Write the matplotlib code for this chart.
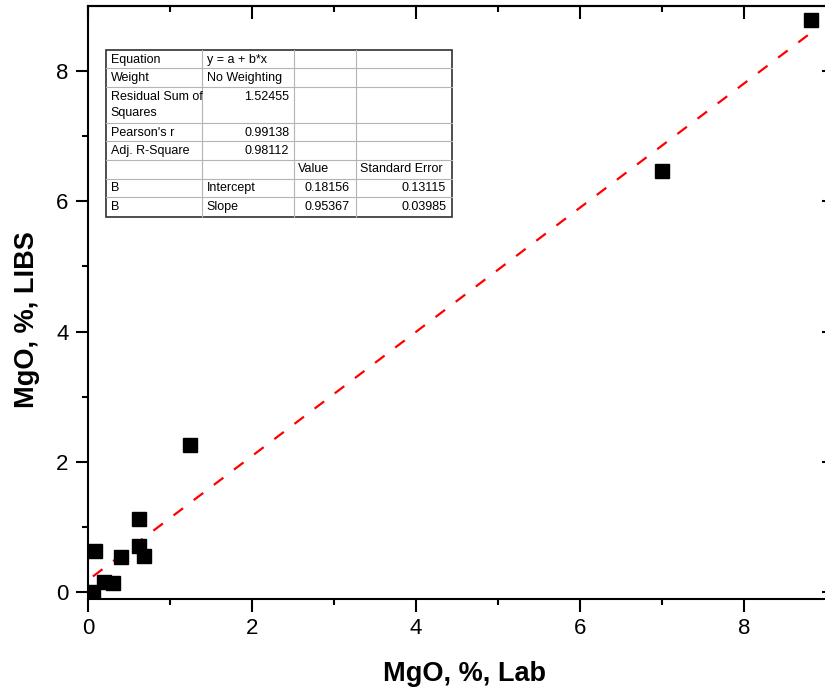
import matplotlib
matplotlib.use("Agg")
import matplotlib.pyplot as plt
import numpy as np

plt.rcParams['font.family'] = ['Liberation Sans', 'DejaVu Sans']
plt.rcParams['lines.scale_dashes'] = False

# MgO content, lab reference vs LIBS prediction
mgo_lab = [8.82, 7.00, 1.24, 0.62, 0.62, 0.68, 0.40, 0.09, 0.20, 0.30, 0.06]
mgo_libs = [8.79, 6.47, 2.26, 1.12, 0.71, 0.56, 0.53, 0.63, 0.16, 0.14, 0.00]

# linear fit results
intercept = 0.18156
slope = 0.95367
intercept_se = 0.13115
slope_se = 0.03985
rss = 1.52455
pearson_r = 0.99138
adj_r2 = 0.98112

W, H = 825, 694
fig = plt.figure(figsize=(W / 100, H / 100), dpi=100)

# axes placed in pixels: x 0..9.1 over 88..834, y -0.1..9 over 598.5..6
x0, x1 = 88, 834.2
y_top, y_bot = 6.1, 598.5
ax = fig.add_axes([x0 / W, 1 - y_bot / H, (x1 - x0) / W, (y_bot - y_top) / H])
ax.set_xlim(0, 9.1)
ax.set_ylim(-0.1, 9)

xf = np.array([min(mgo_lab), max(mgo_lab)])
fit_line, = ax.plot(xf, intercept + slope * xf, color='red', lw=1.6)
fit_line.set_dashes((8.6, 9.6))
ax.plot(mgo_lab, mgo_libs, 's', color='black', ms=9.4, mec='black')

ticks = [0, 2, 4, 6, 8]
minor = [1, 3, 5, 7]
ax.set_xticks(ticks)
ax.set_yticks(ticks)
ax.set_xticks(minor, minor=True)
ax.set_yticks(minor, minor=True)
ax.tick_params(which='both', width=1.5, labelsize=16, direction='out')
ax.tick_params(which='major', length=9)
ax.tick_params(which='minor', length=4.5)
ax.tick_params(axis='x', pad=5)
ax.tick_params(axis='y', pad=5)

# inward ticks on top and right, unlabeled
axt = ax.secondary_xaxis('top')
axt.set_xticks(ticks)
axt.set_xticks(minor, minor=True)
axr = ax.secondary_yaxis('right')
axr.set_yticks(ticks)
axr.set_yticks(minor, minor=True)
for a in (axt, axr):
    a.tick_params(which='both', direction='in', width=1.5, labeltop=False, labelright=False)
    a.tick_params(which='major', length=9)
    a.tick_params(which='minor', length=4.5)
    for s in a.spines.values():
        s.set_linewidth(1.5)
for s in ax.spines.values():
    s.set_linewidth(1.5)

ax.set_xlabel('MgO, %, Lab', fontsize=19.5, fontweight='bold')
ax.set_ylabel('MgO, %, LIBS', fontsize=19.5, fontweight='bold')
ax.xaxis.label.set_va('center')
ax.yaxis.label.set_va('center')
ax.xaxis.set_label_coords((464.5 - x0) / (x1 - x0), (y_bot - 674) / (y_bot - y_top))
ax.yaxis.set_label_coords((27 - x0) / (x1 - x0), (y_bot - 320) / (y_bot - y_top))

# fit summary table, drawn in figure pixels
tab = fig.add_axes([0, 0, 1, 1], facecolor='none')
tab.set_xlim(0, W)
tab.set_ylim(H, 0)
tab.axis('off')

col_edges = [105.7, 201.7, 294.3, 355.7, 452]
row_edges = [50.3, 68, 87, 123.2, 141.3, 159.5, 178.6, 197, 217]

tab.add_patch(plt.Rectangle((col_edges[0], row_edges[0]), col_edges[-1] - col_edges[0],
                            row_edges[-1] - row_edges[0], facecolor='white', edgecolor='none'))
for yv in row_edges[1:-1]:
    tab.plot([col_edges[0], col_edges[-1]], [yv, yv], color='#b4b4b4', lw=0.8)
for xv in col_edges[1:-1]:
    tab.plot([xv, xv], [row_edges[0], row_edges[-1]], color='#b4b4b4', lw=0.8)
tab.add_patch(plt.Rectangle((col_edges[0], row_edges[0]), col_edges[-1] - col_edges[0],
                            row_edges[-1] - row_edges[0], facecolor='none',
                            edgecolor='#303030', lw=1.2))

labels_left = ['Equation', 'Weight', 'Residual Sum of\nSquares', "Pearson's r",
               'Adj. R-Square', '', 'B', 'B']
col1 = ['y = a + b*x', 'No Weighting', f'{rss:.5f}', f'{pearson_r:.5f}',
        f'{adj_r2:.5f}', '', 'Intercept', 'Slope']
col1_right = [False, False, True, True, True, False, False, False]
col2 = ['', '', '', '', '', 'Value', f'{intercept:.5f}', f'{slope:.5f}']
col3 = ['', '', '', '', '', 'Standard Error', f'{intercept_se:.5f}', f'{slope_se:.5f}']

fs = 9
for i in range(8):
    top = row_edges[i] + 3.5
    tab.text(col_edges[0] + 5, top, labels_left[i], fontsize=fs, va='top', ha='left',
             linespacing=1.5)
    if col1_right[i]:
        tab.text(col_edges[2] - 5, top, col1[i], fontsize=fs, va='top', ha='right')
    else:
        tab.text(col_edges[1] + 5, top, col1[i], fontsize=fs, va='top', ha='left')
    for j, col in ((2, col2), (3, col3)):
        if not col[i]:
            continue
        if i == 5:
            tab.text(col_edges[j] + 4, top, col[i], fontsize=fs, va='top', ha='left')
        else:
            tab.text(col_edges[j + 1] - 6, top, col[i], fontsize=fs, va='top', ha='right')

fig.savefig('out.png', dpi=100)
